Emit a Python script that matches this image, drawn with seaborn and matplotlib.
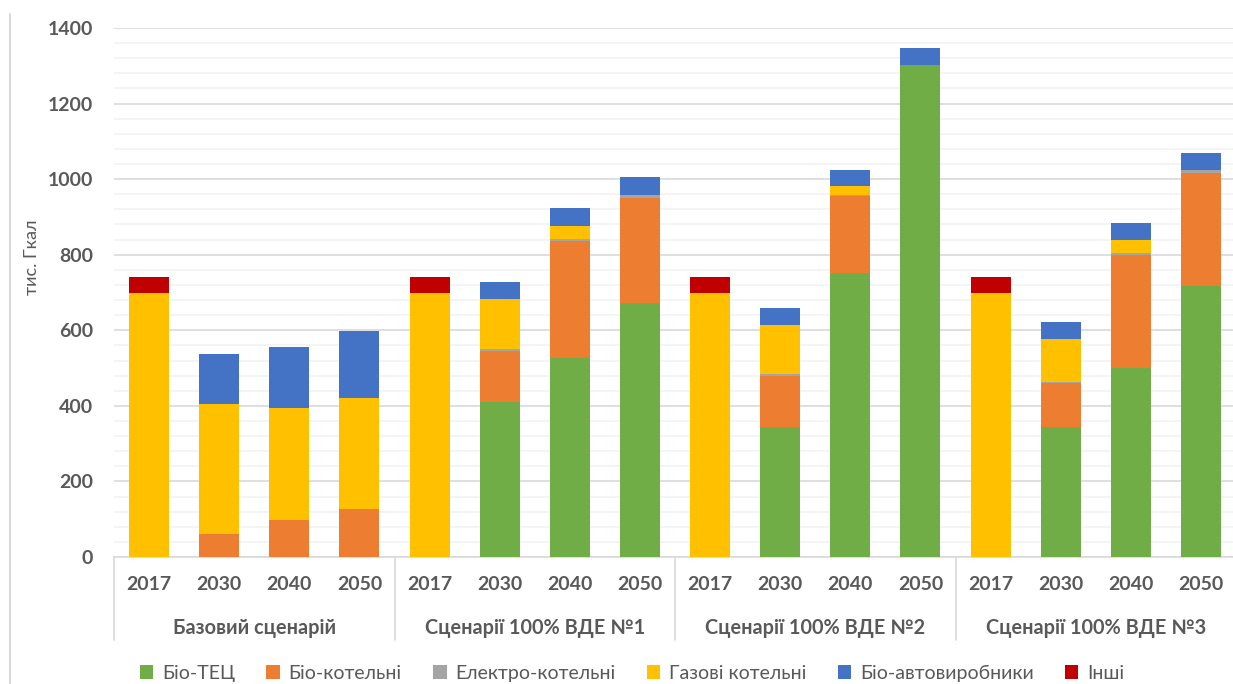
import numpy as np
import pandas as pd
import matplotlib
matplotlib.use("Agg")
import matplotlib.pyplot as plt
from matplotlib.ticker import MultipleLocator
from matplotlib.patches import Rectangle
from matplotlib.lines import Line2D
import matplotlib.transforms as mtransforms
import seaborn as sns

# ---------------- data ----------------
groups = ["Базовий сценарій", "Сценарії 100% ВДЕ №1",
          "Сценарії 100% ВДЕ №2", "Сценарії 100% ВДЕ №3"]
years = ["2017", "2030", "2040", "2050"]

series_names = ["Біо-ТЕЦ", "Біо-котельні", "Електро-котельні",
                "Газові котельні", "Біо-автовиробники", "Інші"]
bio_tec = [0, 0, 0, 0, 0, 411, 527, 671, 0, 345, 751, 1302, 0, 345, 501, 718]
bio_kot = [0, 60, 99, 126, 0, 135, 308, 278, 0, 133, 204, 0, 0, 115, 297, 298]
elektro = [0, 0, 0, 0, 0, 4, 7, 9, 0, 5, 4, 0, 0, 2, 6, 9]
gas = [698, 344, 296, 296, 698, 133, 35, 0, 698, 130, 23, 0, 698, 114, 36, 0]
bio_auto = [0, 132, 161, 176, 0, 44, 46, 47, 0, 47, 43, 44, 0, 45, 43, 45]
inshi = [42, 0, 0, 0, 42, 0, 0, 0, 42, 0, 0, 0, 42, 0, 0, 0]

colors = ["#70AD47", "#ED7D31", "#A5A5A5", "#FFC000", "#4472C4", "#C00000"]

# ---------------- frame ----------------
slots = [f"s{i}" for i in range(len(groups) * len(years))]
df = pd.DataFrame({
    "slot": slots,
    "group": [g for g in groups for _ in years],
    "year": years * len(groups),
})
values = [bio_tec, bio_kot, elektro, gas, bio_auto, inshi]
for name, vals in zip(series_names, values):
    df[name] = vals
cum = df[series_names].cumsum(axis=1)

# ---------------- style ----------------
sns.set_theme(style="white")
plt.rcParams["font.family"] = ["Lato", "DejaVu Sans"]
txt_color = "#595959"

W, H = 1233, 684
fig = plt.figure(figsize=(W / 100, H / 100), dpi=100)
ax_left, ax_right = 114, 1236
ax_top, ax_bottom = 28, 557
ax = fig.add_axes([ax_left / W, 1 - ax_bottom / H,
                   (ax_right - ax_left) / W, (ax_bottom - ax_top) / H])

# stacked bars: draw cumulative totals from top layer down
for i in range(len(series_names) - 1, -1, -1):
    sns.barplot(x=df["slot"], y=cum[series_names[i]], order=slots,
                color=colors[i], saturation=1, width=0.57, errorbar=None,
                linewidth=0, ax=ax, zorder=3)

ax.set_xlim(-0.5, len(slots) - 0.5)
ax.set_ylim(0, 1400)
ax.yaxis.set_major_locator(MultipleLocator(200))
ax.yaxis.set_minor_locator(MultipleLocator(40))
ax.grid(False)
ax.grid(axis="y", which="minor", color="#f2f2f2", linewidth=1.2, zorder=0)
ax.grid(axis="y", which="major", color="#d9d9d9", linewidth=1.2, zorder=1)
ax.set_axisbelow(True)
for s in ["top", "left", "right"]:
    ax.spines[s].set_visible(False)
ax.spines["bottom"].set_color("#d9d9d9")
ax.spines["bottom"].set_linewidth(1.2)

ax.tick_params(axis="y", which="both", length=0, pad=15,
               labelsize=14, labelcolor=txt_color)
for t in ax.get_yticklabels():
    t.set_fontweight("bold")
ax.tick_params(axis="x", which="both", length=0, pad=14,
               labelsize=14, labelcolor=txt_color)
ax.set_xticks(range(len(slots)))
ax.set_xticklabels(df["year"], fontweight="bold")
ax.set_xlabel("")
ax.set_ylabel("")

# group labels and separators
trans = mtransforms.blended_transform_factory(ax.transData, ax.transAxes)
axh = ax_bottom - ax_top
sep_bottom = -(640 - ax_bottom) / axh
grp_y = -(628 - ax_bottom) / axh
for gi, g in enumerate(groups):
    x0 = gi * len(years) - 0.5
    ax.plot([x0, x0], [0, sep_bottom], transform=trans, color="#d9d9d9",
            linewidth=1.2, clip_on=False)
    ax.text(x0 + len(years) / 2, grp_y, g, transform=trans, ha="center",
            va="center", fontsize=14.3, fontweight="bold", color=txt_color)
x_end = len(groups) * len(years) - 0.5
ax.plot([x_end, x_end], [0, sep_bottom], transform=trans, color="#d9d9d9",
        linewidth=1.2, clip_on=False)

# y label
fig.text(32 / W, 1 - 257 / H, "тис. Гкал", rotation=90, ha="center",
         va="center", fontsize=13, color=txt_color)

# outer frame line on the left
fig.add_artist(Line2D([10 / W, 10 / W], [0, 1 - 14 / H],
                      transform=fig.transFigure, color="#d9d9d9", linewidth=1.5))

# legend
handles = [Rectangle((0, 0), 1, 1, facecolor=c, edgecolor="none") for c in colors]
leg = fig.legend(handles, series_names, loc="center",
                 bbox_to_anchor=(632 / W, 1 - 673 / H), ncol=6, frameon=False,
                 handlelength=0.7, handleheight=0.7, handletextpad=0.45,
                 columnspacing=1.6, fontsize=14)
for t in leg.get_texts():
    t.set_color(txt_color)

fig.savefig("out.png", dpi=100)
